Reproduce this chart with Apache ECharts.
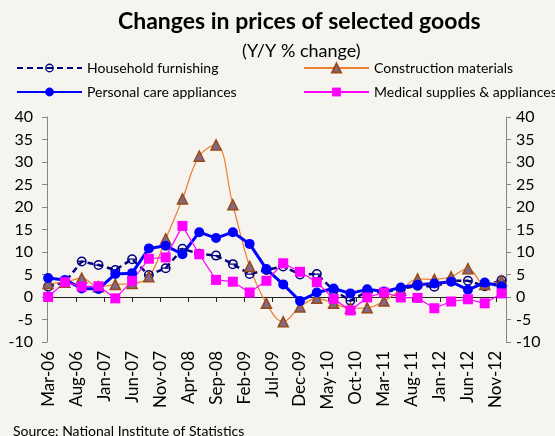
<!DOCTYPE html>
<html>
<head>
<meta charset="utf-8">
<title></title>
<style type="text/css">
	* { margin: 0; padding: 0; }
	html, body { width: 100%; height: 100%; background: #F6F4EF; }
	#main { width: 555px; height: 436px; }
</style>
</head>
<body>
<div id="main"></div>
<script src="https://cdn.jsdelivr.net/npm/echarts@6/dist/echarts.min.js"></script>
<script>
	// quarterly observations
	var quarters = ['Mar-06', 'Jun-06', 'Sep-06', 'Dec-06', 'Mar-07', 'Jun-07', 'Sep-07', 'Dec-07',
		'Mar-08', 'Jun-08', 'Sep-08', 'Dec-08', 'Mar-09', 'Jun-09', 'Sep-09', 'Dec-09',
		'Mar-10', 'Jun-10', 'Sep-10', 'Dec-10', 'Mar-11', 'Jun-11', 'Sep-11', 'Dec-11',
		'Mar-12', 'Jun-12', 'Sep-12', 'Dec-12']
	var household = [2.3, 3.3, 7.9, 7.1, 6.0, 8.4, 4.9, 6.4, 10.7, 9.6, 9.2, 7.3, 5.1, 6.0,
		6.8, 5.0, 5.1, 1.5, -0.8, 1.2, 1.0, 1.8, 2.5, 2.3, 3.6, 3.6, 2.4, 3.7]
	var construction = [3.0, 3.3, 4.2, 2.3, 2.8, 3.0, 4.5, 12.9, 21.8, 31.3, 33.8, 20.5, 6.8, -1.4,
		-5.5, -2.2, -0.3, -1.4, -2.5, -2.4, -0.9, 1.5, 4.0, 3.9, 4.5, 6.3, 2.8, 3.6]
	var personal = [4.2, 3.8, 1.9, 1.8, 5.1, 5.3, 10.8, 11.4, 9.5, 14.4, 13.1, 14.4, 11.8, 6.2,
		2.8, -0.9, 1.0, 1.9, 0.8, 1.7, 1.2, 2.1, 2.7, 3.0, 3.4, 1.6, 3.2, 2.4]
	var medical = [0.0, 3.3, 2.3, 2.4, -0.3, 3.6, 8.5, 8.8, 15.8, 9.5, 3.8, 3.4, 1.0, 3.6,
		7.5, 5.6, 3.3, -0.4, -3.0, -0.1, 1.0, -0.1, -0.2, -2.5, -1.0, -0.5, -1.4, 0.8]

	// axis labels every 5 months
	var tickLabels = ['Mar-06', 'Aug-06', 'Jan-07', 'Jun-07', 'Nov-07', 'Apr-08', 'Sep-08', 'Feb-09',
		'Jul-09', 'Dec-09', 'May-10', 'Oct-10', 'Mar-11', 'Aug-11', 'Jan-12', 'Jun-12', 'Nov-12']
	var yTicks = [-10, -5, 0, 5, 10, 15, 20, 25, 30, 35, 40]

	var monthNames = ['Jan', 'Feb', 'Mar', 'Apr', 'May', 'Jun', 'Jul', 'Aug', 'Sep', 'Oct', 'Nov', 'Dec']

	// month index counted from Mar-06
	function monthIndex(label) {
		var p = label.split('-')
		return (Number(p[1]) - 6) * 12 + monthNames.indexOf(p[0]) - 2
	}

	function pairs(values) {
		var out = []
		for (let i = 0; i < quarters.length; i++) {
			out.push([monthIndex(quarters[i]), values[i]])
		}
		return out
	}

	var tickPos = tickLabels.map(monthIndex)
	var labelByPos = {}
	for (let i = 0; i < tickLabels.length; i++) {
		labelByPos[tickPos[i]] = tickLabels[i]
	}

	var font = 'Lato, "Open Sans", sans-serif'
	var ringSymbol = 'path://M10,0A10,10,0,1,1,10,20A10,10,0,1,1,10,0ZM10,3A7,7,0,1,0,10,17A7,7,0,1,0,10,3ZM2,8.8H18V11.2H2Z'

	var myChart = echarts.init(document.getElementById('main'))
	var option = {
		backgroundColor: '#F6F4EF',
		animation: false,
		textStyle: { fontFamily: font },
		title: [{
			text: 'Changes in prices of selected goods',
			left: 113,
			top: 5,
			textStyle: { fontFamily: font, fontSize: 23, fontWeight: 'bold', color: '#000' }
		}, {
			text: '(Y/Y % change)',
			left: 237,
			top: 37,
			textStyle: { fontFamily: font, fontSize: 18, fontWeight: 'normal', color: '#000' }
		}, {
			text: 'Source: National Institute of Statistics',
			left: 8,
			top: 419,
			textStyle: { fontFamily: font, fontSize: 14, fontWeight: 'normal', color: '#000' }
		}],
		legend: [
			{ data: ['Household furnishing'], left: 16, top: 61 },
			{ data: ['Construction materials'], left: 303, top: 61 },
			{ data: ['Personal care appliances'], left: 16, top: 85 },
			{ data: ['Medical supplies & appliances'], left: 303, top: 85 }
		].map(function(l) {
			l.itemWidth = 65
			l.itemHeight = 11
			l.padding = 0
			l.textStyle = { fontFamily: font, fontSize: 14, color: '#000' }
			return l
		}),
		grid: { left: 47, right: 49, top: 117, bottom: 94 },
		xAxis: [{
			type: 'value',
			min: -0.2,
			max: 81.8,
			axisLine: { onZero: true, lineStyle: { color: '#222', width: 1 } },
			axisTick: { show: true, customValues: tickPos, length: 5, lineStyle: { color: '#222' } },
			axisLabel: { show: false },
			splitLine: { show: false }
		}, {
			type: 'value',
			position: 'bottom',
			min: -0.2,
			max: 81.8,
			axisLine: { show: false, onZero: false },
			axisTick: { show: false },
			splitLine: { show: false },
			axisLabel: {
				customValues: tickPos,
				rotate: 90,
				margin: 9,
				fontFamily: font,
				fontSize: 17,
				color: '#000',
				formatter: function(v) { return labelByPos[v] || '' }
			}
		}],
		yAxis: [-1, 1].map(function(side) {
			return {
				type: 'value',
				position: side < 0 ? 'left' : 'right',
				min: yTicks[0],
				max: yTicks[yTicks.length - 1],
				interval: 5,
				axisLine: { show: true, onZero: false, lineStyle: { color: '#868686' } },
				axisTick: { show: true, length: 5, lineStyle: { color: '#868686' } },
				splitLine: { show: false },
				axisLabel: { margin: side < 0 ? 14 : 10, fontFamily: font, fontSize: 16, color: '#000' }
			}
		}),
		series: [{
			name: 'Household furnishing',
			type: 'line',
			data: pairs(household),
			symbol: ringSymbol,
			symbolSize: 10,
			color: '#000080',
			itemStyle: { color: '#000080', borderWidth: 0 },
			lineStyle: { color: '#000080', width: 2.5, type: [6, 4] }
		}, {
			name: 'Construction materials',
			type: 'line',
			data: pairs(construction),
			smooth: 0.4,
			symbol: 'triangle',
			symbolSize: 10,
			color: '#ED7D31',
			itemStyle: { color: '#7E6A8A', borderColor: '#9A4A12', borderWidth: 1.5 },
			lineStyle: { color: '#ED7D31', width: 1.2 }
		}, {
			name: 'Personal care appliances',
			type: 'line',
			data: pairs(personal),
			symbol: 'circle',
			symbolSize: 10,
			color: '#0000FF',
			itemStyle: { color: '#0000FF' },
			lineStyle: { color: '#0000FF', width: 3 }
		}, {
			name: 'Medical supplies & appliances',
			type: 'line',
			data: pairs(medical),
			symbol: 'rect',
			symbolSize: 10,
			color: '#FF00FF',
			itemStyle: { color: '#FF00FF' },
			lineStyle: { color: '#FF00FF', width: 1.2 }
		}]
	}
	myChart.setOption(option)
</script>
</body>
</html>
